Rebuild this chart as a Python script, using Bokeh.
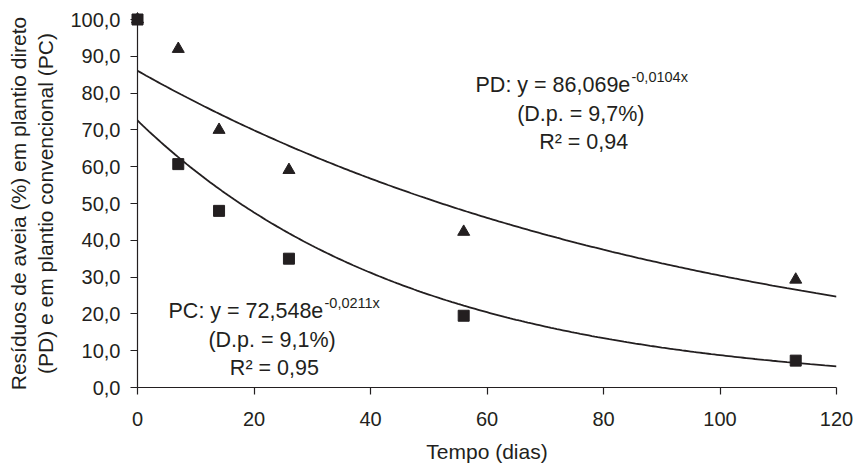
import numpy as np
from bokeh.plotting import figure
from bokeh.models import Range1d, FixedTicker
from bokeh.embed import file_html
from bokeh.resources import INLINE
from bokeh.core.properties import value

# ---- data ----
dias = [0, 7, 14, 26, 56, 113]
pd_residuos = [100.0, 92.0, 70.0, 59.1, 42.3, 29.3]   # plantio direto (triangles)
pc_residuos = [100.0, 60.7, 48.0, 35.0, 19.5, 7.3]    # plantio convencional (squares)

# fitted exponential trendlines y = a * exp(b * x), coefficients as printed on the chart
pd_coef = [86.069, -0.0104]
pc_coef = [72.548, -0.0211]

x_ticks = [0, 20, 40, 60, 80, 100, 120]
y_ticks = [0, 10, 20, 30, 40, 50, 60, 70, 80, 90, 100]
y_tick_labels = ["0,0", "10,0", "20,0", "30,0", "40,0", "50,0",
                 "60,0", "70,0", "80,0", "90,0", "100,0"]

pd_eq = ["PD: y = 86,069e", "-0,0104x", "(D.p. = 9,7%)", "R² = 0,94"]
pc_eq = ["PC: y = 72,548e", "-0,0211x", "(D.p. = 9,1%)", "R² = 0,95"]

FONT = "Liberation Sans"
INK = "#231f20"

p = figure(width=853, height=465, output_backend="svg", toolbar_location=None,
           x_range=Range1d(0, 120), y_range=Range1d(0, 100),
           min_border_left=137, min_border_right=17, min_border_top=19,
           min_border_bottom=77)
p.outline_line_color = None
p.grid.grid_line_color = None
p.background_fill_color = "white"

for ax in (p.xaxis[0], p.yaxis[0]):
    ax.axis_line_color = INK
    ax.axis_line_width = 1.2
    ax.major_tick_line_color = INK
    ax.major_tick_line_width = 1.2
    ax.major_tick_in = 0
    ax.major_tick_out = 7
    ax.minor_tick_line_color = None
    ax.major_label_text_font = FONT
    ax.major_label_text_font_size = "20px"
    ax.major_label_text_color = INK
    ax.axis_label_text_font = FONT
    ax.axis_label_text_font_size = "21px"
    ax.axis_label_text_font_style = "normal"
    ax.axis_label_text_color = INK

p.xaxis.ticker = FixedTicker(ticks=x_ticks)
p.yaxis.ticker = FixedTicker(ticks=y_ticks)
p.yaxis.major_label_overrides = {t: l for t, l in zip(y_ticks, y_tick_labels)}
p.xaxis.major_label_standoff = 17
p.yaxis.major_label_standoff = 10
p.xaxis.axis_label = "Tempo (dias)"
p.xaxis.axis_label_standoff = 11
p.yaxis.axis_label = "Resíduos de aveia (%) em plantio direto\n(PD) e em plantio convencional (PC)"
p.yaxis.axis_label_standoff = 10

# trendlines
xf = np.linspace(0, 120, 241)
p.line(xf, pd_coef[0] * np.exp(pd_coef[1] * xf), line_color=INK, line_width=1.8)
p.line(xf, pc_coef[0] * np.exp(pc_coef[1] * xf), line_color=INK, line_width=1.8)

# observed points
r1 = p.scatter(dias, pd_residuos, marker="triangle", size=12, fill_color=INK, line_color=INK)
r2 = p.scatter(dias, pc_residuos, marker="square", size=11, fill_color=INK, line_color=INK)
r1.level = "overlay"
r2.level = "overlay"

def txt(x, y, s, align, size="21.5px", yoff=0):
    p.text(x=[x], y=[y], text=[s], text_font=value(FONT), text_font_size=size,
           text_color=INK, text_align=align, text_baseline="middle", y_offset=yoff)

# PD equation block
txt(84.6, 82.1, pd_eq[0], "right")
txt(84.8, 82.1, pd_eq[1], "left", size="14.5px", yoff=-8)
txt(76.1, 74.3, pd_eq[2], "center")
txt(76.6, 66.7, pd_eq[3], "center")

# PC equation block
txt(31.9, 20.9, pc_eq[0], "right")
txt(32.1, 20.9, pc_eq[1], "left", size="14.5px", yoff=-8)
txt(23.1, 13.0, pc_eq[2], "center")
txt(23.5, 5.4, pc_eq[3], "center")

open("out.html", "w").write(file_html(p, INLINE))
